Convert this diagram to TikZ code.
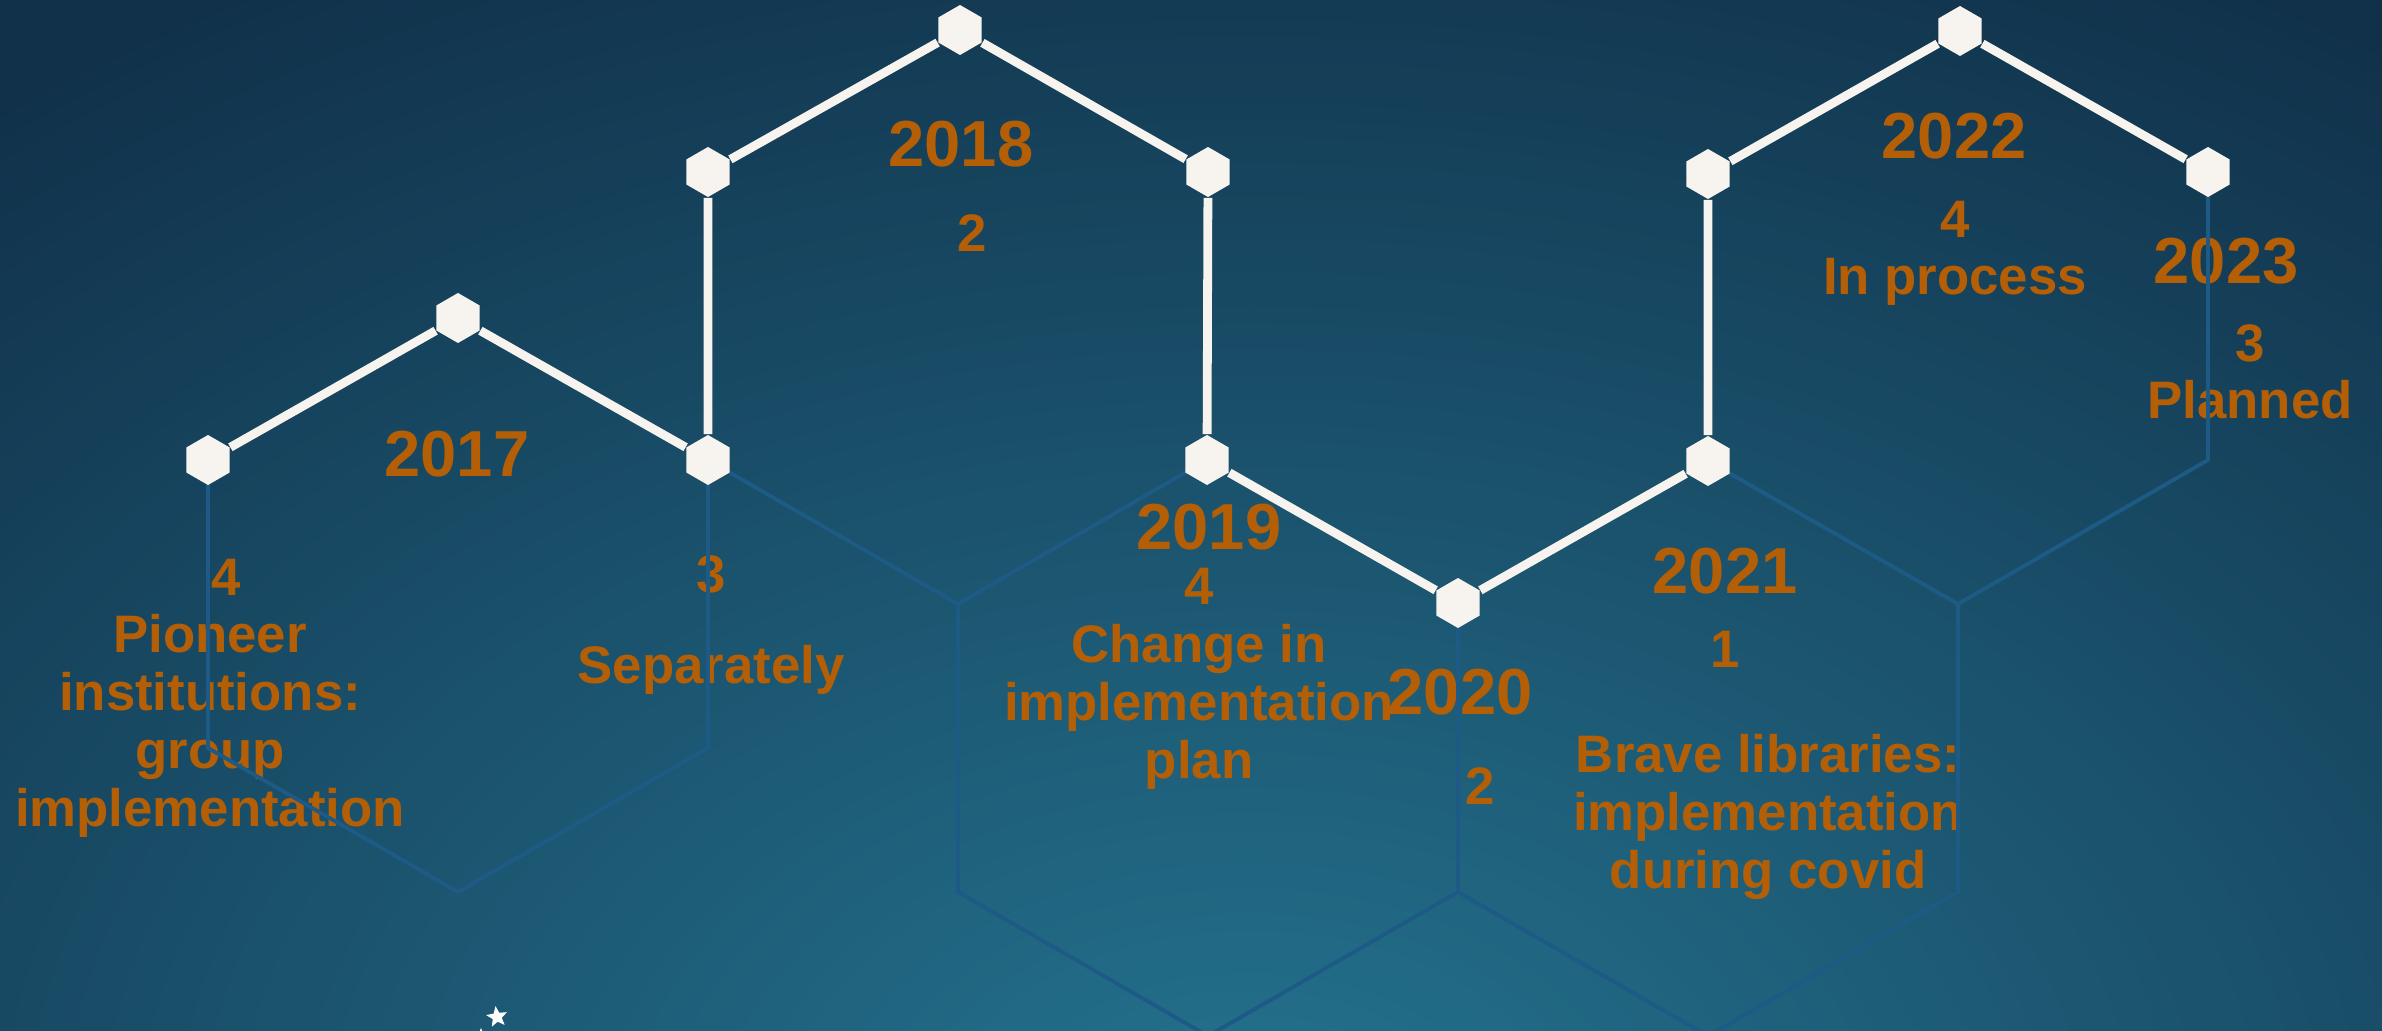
\documentclass[tikz,border=0pt]{standalone}
\usepackage{fontspec}
\setmainfont{Liberation Sans}
\usetikzlibrary{shapes.geometric}
\definecolor{bgdark}{HTML}{11314A}
\definecolor{bglight}{HTML}{24738F}
\definecolor{gridc}{HTML}{1D5A85}
\definecolor{pathc}{HTML}{F7F3EE}
\definecolor{txt}{HTML}{B45F06}
\begin{document}
\begin{tikzpicture}[x=0.01cm,y=-0.01cm,
  gridline/.style={draw=gridc, line width=1.1pt, line join=miter},
  pathline/.style={draw=pathc, line width=2.5pt},
  marker/.style={regular polygon, regular polygon sides=6, shape border rotate=90, fill=pathc, minimum size=0.5cm, inner sep=0pt},
  yr/.style={text=txt, font=\bfseries\fontsize{18.5}{22}\selectfont, inner sep=0pt, anchor=base},
  lbl/.style={text=txt, font=\bfseries\fontsize{15}{16.4}\selectfont, align=center, inner sep=0pt, anchor=base},
  starm/.style={star, star points=5, star point ratio=2.3, fill=white, inner sep=0pt}]
\useasboundingbox (0,0) rectangle (2382,1031);
\fill[bgdark] (0,0) rectangle (2382,1031);
\begin{scope}
\clip (0,0) rectangle (2382,1031);
\foreach \i in {0,...,159}{
  \pgfmathsetmacro\rr{1-\i/160}
  \pgfmathsetmacro\pp{\i/159*100}
  \fill[bglight!\pp!bgdark] (1250,1150) ellipse ({2000*\rr} and {1350*\rr});
}
\end{scope}
% texts (multi-line nodes: base = last line)
\node[yr] (y17) at (457,477) {2017};
\node[lbl] (t17) at (210,826) {\hspace*{0.6em}4\\Pioneer\\institutions:\\group\\implementation};
\node[lbl] (n17b) at (711,593) {3};
\node[lbl] (t17b) at (711,683) {Separately};
\node[yr] (y18) at (961,167) {2018};
\node[lbl] (n18) at (972,252) {2};
\node[yr] (y19) at (1209,550) {2019};
\node[lbl] (t19) at (1199,778) {4\\Change in\\implementation\\plan};
\node[yr] (y20) at (1460,715) {2020};
\node[lbl] (n20) at (1480,804) {2};
\node[yr] (y21) at (1725,594) {2021};
\node[lbl] (n21) at (1725,667) {1};
\node[lbl] (t21) at (1768,888) {Brave libraries:\\implementation\\during covid};
\node[yr] (y22) at (1954,159) {2022};
\node[lbl] (t22) at (1955,295) {4\\In process};
\node[yr] (y23) at (2226,284) {2023};
\node[lbl] (t23) at (2250,419) {3\\Planned};
% grid coordinates
\coordinate (pA) at (208,460);
\coordinate (pB) at (458,318);
\coordinate (pC) at (708,460);
\coordinate (pD) at (708,172);
\coordinate (pE) at (960,30);
\coordinate (pF) at (1208,172);
\coordinate (pG) at (1207,460);
\coordinate (pH) at (1458,603);
\coordinate (pI) at (1708,461);
\coordinate (pJ) at (1708,174);
\coordinate (pK) at (1960,31);
\coordinate (pL) at (2208,172);
\coordinate (a1) at (208,748);
\coordinate (a2) at (708,748);
\coordinate (a3) at (458,892);
\coordinate (b1) at (958,604);
\coordinate (c1) at (958,892);
\coordinate (c2) at (1458,892);
\coordinate (c3) at (1208,1036);
\coordinate (d1) at (1958,604);
\coordinate (d2) at (1958,892);
\coordinate (d3) at (1708,1036);
\coordinate (e1) at (2208,460);
% faint hexagon grid
\draw[gridline] (pA) -- (a1) -- (a3) -- (a2) -- (pC);
\draw[gridline] (pC) -- (b1) -- (pG);
\draw[gridline] (b1) -- (c1) -- (c3) -- (c2) -- (pH);
\draw[gridline] (c2) -- (d3) -- (d2) -- (d1) -- (pI);
\draw[gridline] (pL) -- (e1) -- (d1);
% markers
\foreach \n in {A,B,C,D,E,F,G,H,I,J,K,L}{\node[marker] (\n) at (p\n) {};}
% white timeline path
\draw[pathline] (A) -- (B) -- (C) -- (D) -- (E) -- (F) -- (G) -- (H) -- (I) -- (J) -- (K) -- (L);
% stars
\node[starm, minimum size=0.22cm, rotate=8] (s1) at (497,1017) {};
\node[starm, minimum size=0.16cm] (s2) at (481,1036) {};
\end{tikzpicture}
\end{document}
